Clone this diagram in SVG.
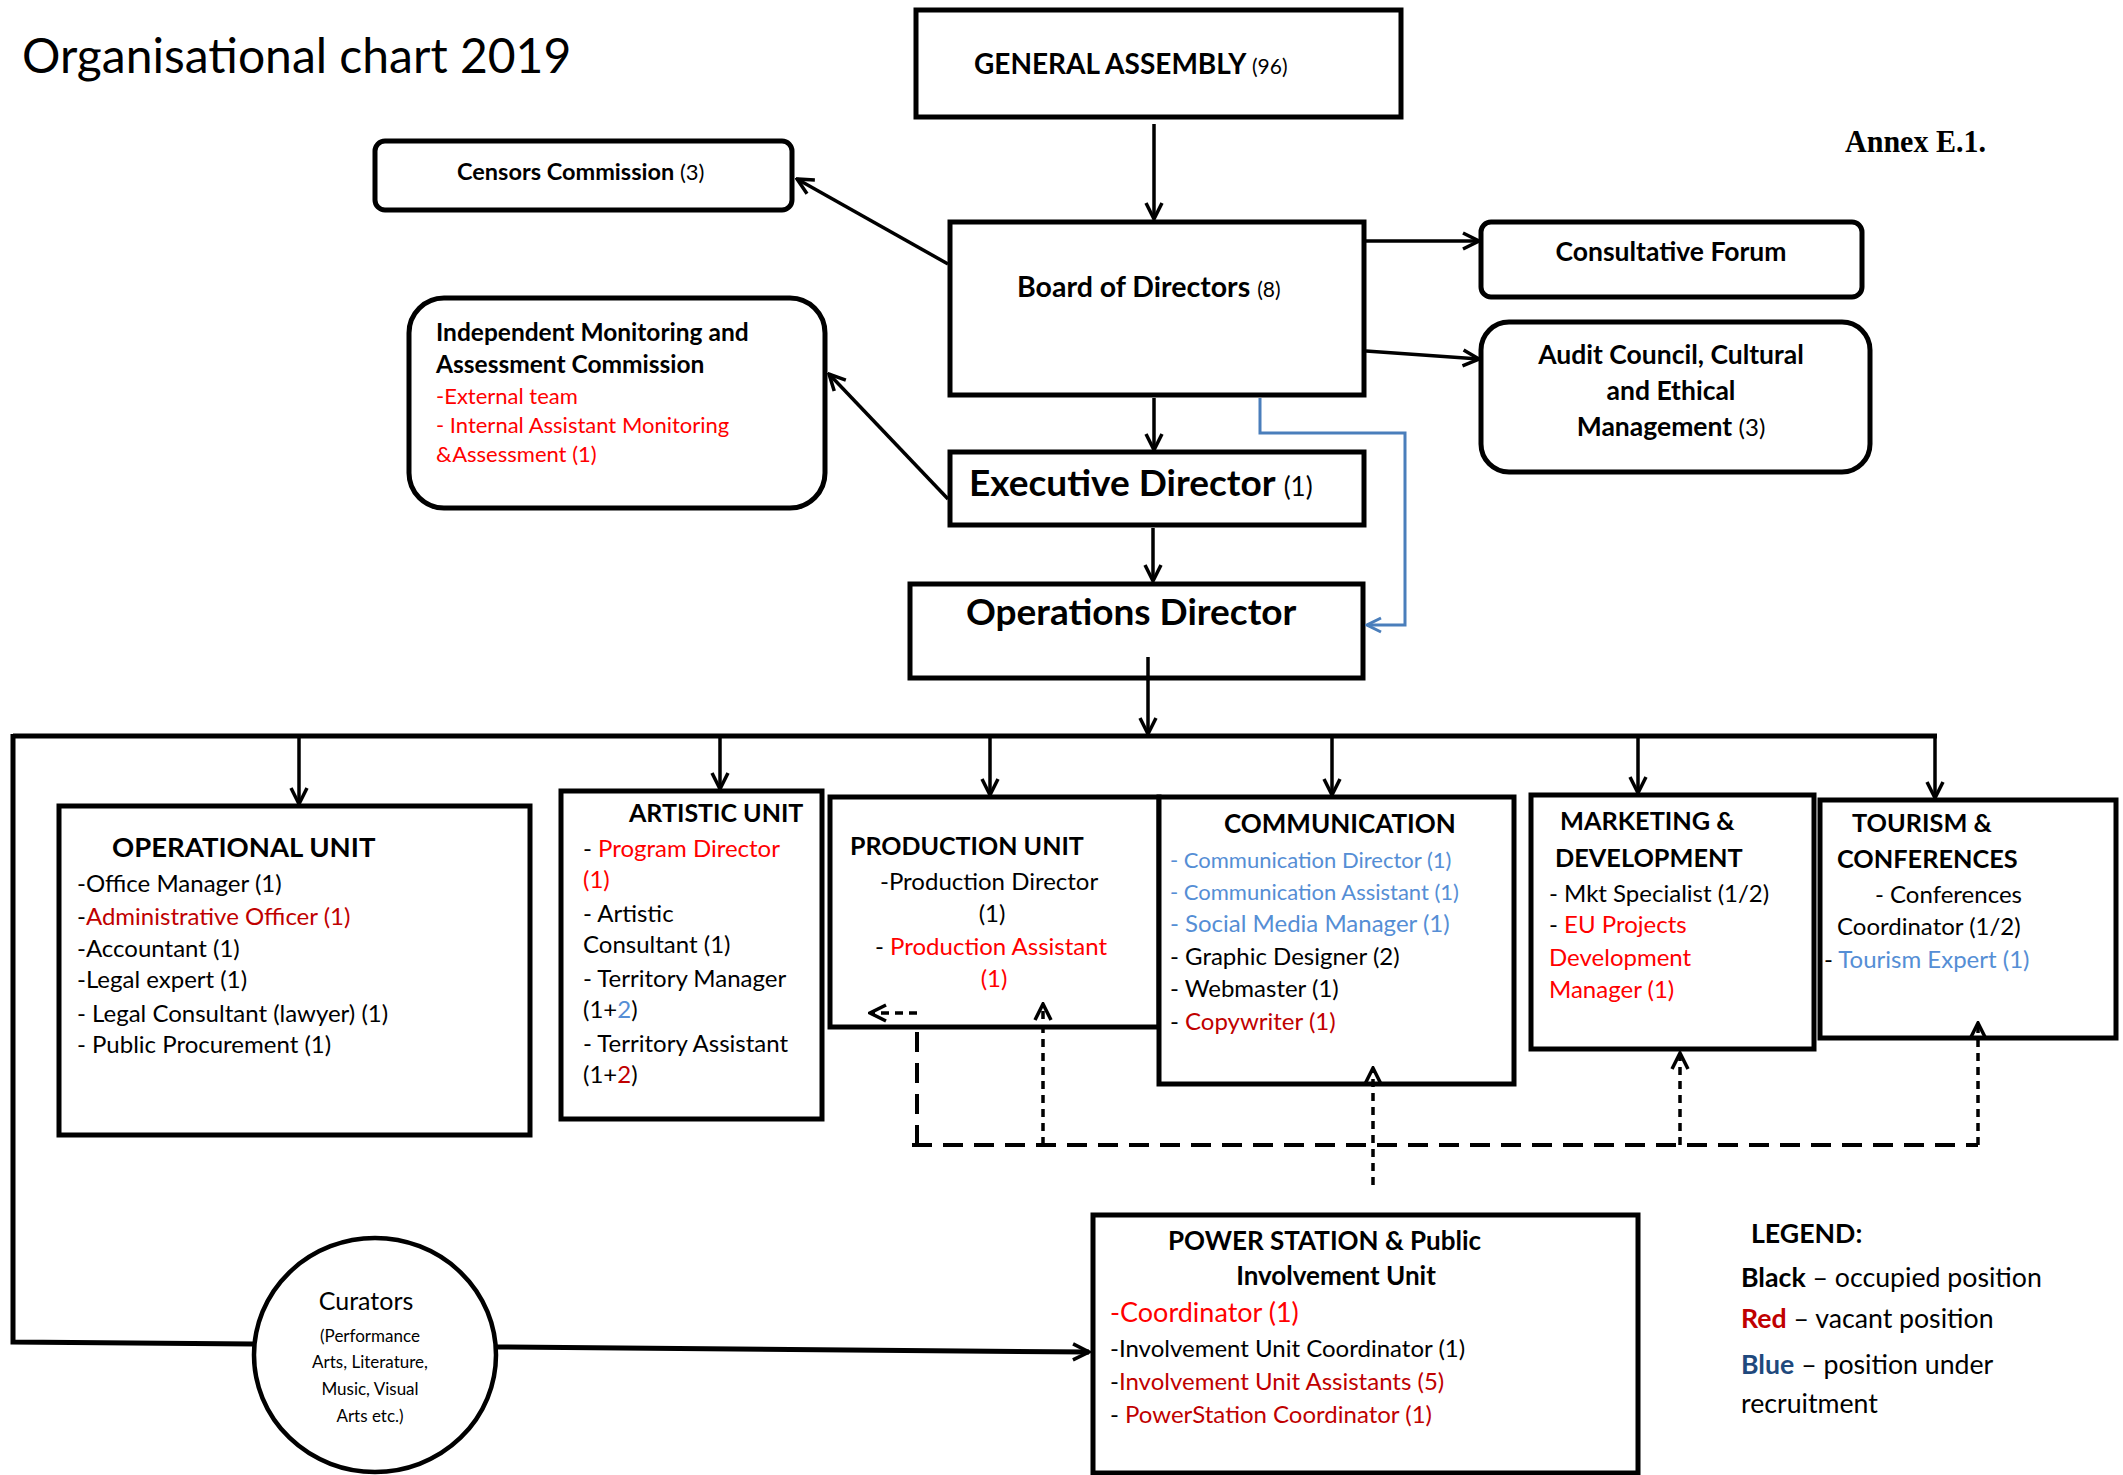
<svg xmlns="http://www.w3.org/2000/svg" width="2123" height="1475" viewBox="0 0 2123 1475">
<style>
text{font-family:Lato,"Liberation Sans",sans-serif;fill:#000}
.b{font-weight:bold}
.box{fill:#fff;stroke:#000;stroke-width:5}
.c{stroke:#000;stroke-width:3.5;fill:none}
.dash{stroke:#000;stroke-width:4;fill:none;stroke-dasharray:20 11}
.dot{stroke:#000;stroke-width:3.5;fill:none;stroke-dasharray:8 6}
.body{font-size:24px}
.h{font-size:25.3px;font-weight:bold}
.r{fill:#FF0000}
.dr{fill:#C00000}
.bl{fill:#558ED5}
</style>
<defs>
<marker id="arr" viewBox="0 0 20 20" refX="18" refY="10" markerWidth="20" markerHeight="20" markerUnits="userSpaceOnUse" orient="auto">
<path d="M2,2 L18,10 L2,18" fill="none" stroke="#000" stroke-width="3.5"/>
</marker>
<marker id="arrb" viewBox="0 0 20 20" refX="18" refY="10" markerWidth="20" markerHeight="20" markerUnits="userSpaceOnUse" orient="auto">
<path d="M4,3 L18,10 L4,17" fill="none" stroke="#4A7EBB" stroke-width="3"/>
</marker>
</defs>
<rect width="2123" height="1475" fill="#fff"/>
<text x="22" y="73" style="font-size:48px">Organisational chart 2019</text>
<text x="1845" y="152" style="font-family:'Liberation Serif',serif;font-weight:bold;font-size:32px" textLength="141" lengthAdjust="spacingAndGlyphs">Annex E.1.</text>

<g id="general-assembly">
<rect class="box" x="916" y="10" width="485" height="107"/>
<text x="974" y="74" class="b" style="font-size:28px">GENERAL ASSEMBLY <tspan style="font-weight:normal;font-size:21px">(96)</tspan></text>
</g>
<g id="board">
<rect class="box" x="950" y="222" width="414" height="173"/>
<text x="1017" y="297" class="b" style="font-size:28.5px">Board of Directors <tspan style="font-weight:normal;font-size:21px">(8)</tspan></text>
</g>
<g id="consultative-forum">
<rect class="box" x="1481" y="222" width="381" height="75" rx="10"/>
<text x="1671" y="261" class="b" text-anchor="middle" style="font-size:26.5px">Consultative Forum</text>
</g>
<g id="audit">
<rect class="box" x="1481" y="322" width="389" height="150" rx="28"/>
<text x="1671" y="364" class="b" text-anchor="middle" style="font-size:26.5px">Audit Council, Cultural</text>
<text x="1671" y="400" class="b" text-anchor="middle" style="font-size:26.5px">and Ethical</text>
<text x="1671" y="436" class="b" text-anchor="middle" style="font-size:26.5px">Management <tspan style="font-weight:normal;font-size:24px">(3)</tspan></text>
</g>
<g id="censors">
<rect class="box" x="375" y="141" width="417" height="69" rx="10"/>
<text x="457" y="180" class="b" style="font-size:23.5px">Censors Commission <tspan style="font-weight:normal;font-size:22px">(3)</tspan></text>
</g>
<g id="monitoring">
<rect class="box" x="409" y="298" width="416" height="210" rx="35"/>
<text x="436" y="341" class="b" style="font-size:24.5px">Independent Monitoring and</text>
<text x="436" y="373" class="b" style="font-size:24.5px">Assessment Commission</text>
<text x="436" y="404" class="r" style="font-size:22px">-External team</text>
<text x="436" y="433" class="r" style="font-size:22px">- Internal Assistant Monitoring</text>
<text x="436" y="462" class="r" style="font-size:22px">&amp;Assessment (1)</text>
</g>
<g id="executive-director">
<rect class="box" x="950" y="452" width="414" height="73"/>
<text x="969" y="496" class="b" style="font-size:37px">Executive Director <tspan style="font-weight:normal;font-size:26px">(1)</tspan></text>
</g>
<g id="operations-director">
<rect class="box" x="910" y="584" width="453" height="94"/>
<text x="966" y="625" class="b" style="font-size:37px">Operations Director</text>
</g>

<g id="operational-unit">
<rect class="box" x="59" y="806" width="471" height="329"/>
<text x="112" y="857" class="h" style="font-size:27.5px">OPERATIONAL UNIT</text>
<g class="body">
<text x="77" y="892">-Office Manager (1)</text>
<text x="77" y="925">-<tspan class="dr">Administrative Officer (1)</tspan></text>
<text x="77" y="957">-Accountant (1)</text>
<text x="77" y="988">-Legal expert (1)</text>
<text x="77" y="1022">- Legal Consultant (lawyer) (1)</text>
<text x="77" y="1053">- Public Procurement (1)</text>
</g>
</g>
<g id="artistic-unit">
<rect class="box" x="561" y="791" width="261" height="328"/>
<text x="629" y="822" class="h" style="font-size:25px">ARTISTIC UNIT</text>
<g class="body">
<text x="583" y="857">- <tspan class="r">Program  Director</tspan></text>
<text x="583" y="888" class="r">(1)</text>
<text x="583" y="922">- Artistic</text>
<text x="583" y="953">Consultant (1)</text>
<text x="583" y="987">- Territory Manager</text>
<text x="583" y="1018">(1+<tspan class="bl">2</tspan>)</text>
<text x="583" y="1052">- Territory Assistant</text>
<text x="583" y="1083">(1+<tspan class="dr">2</tspan>)</text>
</g>
</g>
<g id="production-unit">
<rect class="box" x="830" y="797" width="329" height="230"/>
<text x="850" y="855" class="h" style="font-size:25px">PRODUCTION UNIT</text>
<g class="body">
<text x="880" y="890">-Production Director</text>
<text x="992" y="922" text-anchor="middle">(1)</text>
<text x="875" y="955">- <tspan class="r">Production Assistant</tspan></text>
<text x="994" y="987" text-anchor="middle" class="r">(1)</text>
</g>
</g>
<g id="communication">
<rect class="box" x="1159" y="797" width="355" height="287"/>
<text x="1224" y="833" class="h" style="font-size:26px">COMMUNICATION</text>
<g class="body">
<text x="1170" y="868" class="bl" style="font-size:22px">- Communication Director (1)</text>
<text x="1170" y="900" class="bl" style="font-size:22px">- Communication Assistant (1)</text>
<text x="1170" y="932" class="bl">- Social Media Manager (1)</text>
<text x="1170" y="965">- Graphic Designer (2)</text>
<text x="1170" y="997">- Webmaster (1)</text>
<text x="1170" y="1030">- <tspan class="dr">Copywriter (1)</tspan></text>
</g>
</g>
<g id="marketing">
<rect class="box" x="1531" y="795" width="283" height="254"/>
<text x="1560" y="830" class="h">MARKETING &amp;</text>
<text x="1555" y="867" class="h">DEVELOPMENT</text>
<g class="body">
<text x="1549" y="902">- Mkt Specialist (1/2)</text>
<text x="1549" y="933">- <tspan class="r">EU Projects</tspan></text>
<text x="1549" y="966" class="r">Development</text>
<text x="1549" y="998" class="r">Manager (1)</text>
</g>
</g>
<g id="tourism">
<rect class="box" x="1820" y="800" width="296" height="238"/>
<text x="1852" y="832" class="h">TOURISM &amp;</text>
<text x="1837" y="868" class="h">CONFERENCES</text>
<g class="body">
<text x="1875" y="903">- Conferences</text>
<text x="1837" y="935">Coordinator (1/2)</text>
<text x="1824" y="968">- <tspan class="bl">Tourism Expert (1)</tspan></text>
</g>
</g>
<g id="power-station">
<rect class="box" x="1093" y="1215" width="545" height="258"/>
<text x="1168" y="1250" class="b" style="font-size:26px">POWER STATION &amp; Public</text>
<text x="1336" y="1285" class="b" text-anchor="middle" style="font-size:26px">Involvement Unit</text>
<g class="body">
<text x="1110" y="1322" class="r" style="font-size:27px">-Coordinator (1)</text>
<text x="1110" y="1357">-Involvement Unit Coordinator (1)</text>
<text x="1110" y="1390">-<tspan class="dr">Involvement Unit Assistants (5)</tspan></text>
<text x="1110" y="1423">- <tspan class="dr">PowerStation Coordinator (1)</tspan></text>
</g>
</g>
<g id="curators">
<ellipse cx="375" cy="1355" rx="121" ry="117" fill="#fff" stroke="#000" stroke-width="4.5"/>
<text x="366" y="1310" text-anchor="middle" style="font-size:25px">Curators</text>
<g style="font-size:17px" text-anchor="middle">
<text x="370" y="1342">(Performance</text>
<text x="370" y="1368">Arts,  Literature,</text>
<text x="370" y="1395">Music, Visual</text>
<text x="370" y="1422">Arts etc.)</text>
</g>
</g>
<g id="legend" style="font-size:26.7px">
<text x="1751" y="1243" class="b">LEGEND:</text>
<text x="1741" y="1287"><tspan class="b">Black</tspan> – occupied position</text>
<text x="1741" y="1328"><tspan class="b dr">Red</tspan> – vacant position</text>
<text x="1741" y="1374"><tspan class="b" style="fill:#1F497D">Blue</tspan> – position under</text>
<text x="1741" y="1413">recruitment</text>
</g>

<g id="connectors">
<line class="c" x1="1154" y1="124" x2="1154" y2="219" marker-end="url(#arr)"/>
<line class="c" x1="1154" y1="398" x2="1154" y2="450" marker-end="url(#arr)"/>
<line class="c" x1="1153" y1="528" x2="1153" y2="581" marker-end="url(#arr)"/>
<line class="c" x1="1366" y1="241" x2="1479" y2="241" marker-end="url(#arr)"/>
<line class="c" x1="1366" y1="351" x2="1479" y2="359" marker-end="url(#arr)"/>
<line class="c" x1="948" y1="264" x2="797" y2="179" marker-end="url(#arr)"/>
<line class="c" x1="948" y1="499" x2="829" y2="374" marker-end="url(#arr)"/>
<path d="M1260,398 V433 H1405 V625 H1367" fill="none" stroke="#4A7EBB" stroke-width="3" marker-end="url(#arrb)"/>
<line class="c" x1="1148" y1="657" x2="1148" y2="734" marker-end="url(#arr)"/>
<path d="M13,736 H1937" fill="none" stroke="#000" stroke-width="5"/>
<line class="c" x1="299" y1="736" x2="299" y2="804" marker-end="url(#arr)"/>
<line class="c" x1="720" y1="736" x2="720" y2="789" marker-end="url(#arr)"/>
<line class="c" x1="990" y1="736" x2="990" y2="795" marker-end="url(#arr)"/>
<line class="c" x1="1332" y1="736" x2="1332" y2="795" marker-end="url(#arr)"/>
<line class="c" x1="1638" y1="736" x2="1638" y2="793" marker-end="url(#arr)"/>
<line class="c" x1="1935" y1="734" x2="1935" y2="798" marker-end="url(#arr)"/>
<path d="M13,734 V1342 L253,1344" fill="none" stroke="#000" stroke-width="5"/>
<path d="M497,1347 L1089,1352" fill="none" stroke="#000" stroke-width="5" marker-end="url(#arr)"/>
<path class="dash" d="M912,1145 H1978"/>
<path class="dash" d="M917,1145 V1030"/>
<path class="dot" d="M917,1013 H870" marker-end="url(#arr)"/>
<path class="dot" d="M1043,1145 V1004" marker-end="url(#arr)"/>
<path class="dot" d="M1373,1185 V1068" marker-end="url(#arr)"/>
<path class="dot" d="M1680,1145 V1053" marker-end="url(#arr)"/>
<path class="dot" d="M1978,1145 V1023" marker-end="url(#arr)"/>
</g>
</svg>
